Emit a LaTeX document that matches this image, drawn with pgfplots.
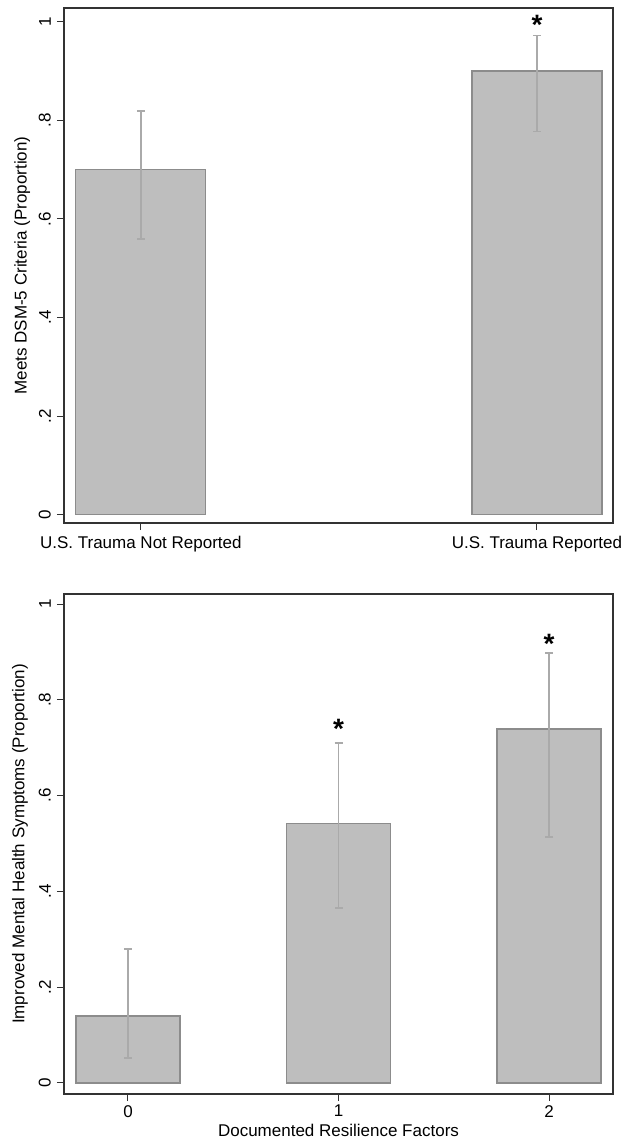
\documentclass[border=0pt]{standalone}
\usepackage{fontspec}
\setmainfont{Liberation Sans}
\usepackage{pgfplots}
\pgfplotsset{compat=1.18}
\definecolor{barfill}{RGB}{190,190,190}
\definecolor{baredge}{RGB}{140,140,140}
\definecolor{errc}{RGB}{170,170,170}
\definecolor{axc}{RGB}{50,50,50}
\begin{document}
\begin{tikzpicture}[x=1pt,y=1pt]
\useasboundingbox (-64pt,523pt) rectangle (573pt,-617pt);
\pgfplotsset{
  common/.style={
    scale only axis,
    width=549pt,
    font=\fontsize{17}{20}\selectfont,
    /pgf/number format/assume math mode=true,
    axis line style={draw=axc, line width=1.2pt},
    tick align=outside,
    major tick length=7pt,
    every tick/.style={draw=axc, line width=1pt},
    xtick pos=lower, ytick pos=left,
    ytick={0,0.2,0.4,0.6,0.8,1},
    yticklabels={0,.2,.4,.6,.8,1},
    yticklabel style={rotate=90, anchor=south, inner sep=2pt, yshift=4pt},
    xticklabel style={anchor=north, inner sep=2pt},
    every axis y label/.style={rotate=90, anchor=center},
    every axis x label/.style={at={(axis description cs:0.5,0)}, anchor=center},
  },
  errbar/.style={
    error bars/.cd, y dir=both, y explicit,
    error mark=-,
    error bar style={draw=errc, line width=1.5pt},
    error mark options={rotate=90, draw=errc, line width=1.5pt, mark size=4pt},
  },
}
% ---------------- top panel ----------------
\begin{axis}[common,
  at={(0pt,0pt)}, anchor=south west,
  height=515pt,
  xmin=-0.194, xmax=1.192,
  ymin=-0.017, ymax=1.028,
  xtick={0,1},
  xticklabels={U.S. Trauma Not Reported, U.S. Trauma Reported},
  xticklabel style={yshift=-4pt},
  ylabel={Meets DSM-5 Criteria (Proportion)},
  every axis y label/.append style={at={(axis description cs:-0.076,0.5)}},
]
\addplot[ybar, bar width=0.328, bar shift=0pt, fill=barfill, draw=baredge, line width=1.2pt, errbar]
  coordinates {
    (0,0.700) += (0,0.119) -= (0,0.141)
    (1,0.900) += (0,0.072) -= (0,0.123)
  };
\addplot[draw=none, mark=none, nodes near coords={\bfseries *},
  every node near coord/.append style={anchor=center, font=\fontsize{28}{28}\selectfont, yshift=-4pt}]
  coordinates {(1,1.002)};
\end{axis}
% ---------------- bottom panel ----------------
\begin{axis}[common,
  at={(0pt,-71pt)}, anchor=north west,
  height=500pt,
  xmin=-0.304, xmax=2.304,
  ymin=-0.023, ymax=1.021,
  xtick={0,1,2},
  xticklabels={0,1,2},
  xticklabel style={yshift=-2pt},
  ylabel={Improved Mental Health Symptoms (Proportion)},
  every axis y label/.append style={at={(axis description cs:-0.080,0.5)}},
  xlabel={Documented Resilience Factors},
  every axis x label/.append style={yshift=-36pt},
]
\addplot[ybar, bar width=0.494, bar shift=0pt, fill=barfill, draw=baredge, line width=1.2pt, errbar]
  coordinates {
    (0,0.140) += (0,0.140) -= (0,0.088)
    (1,0.541) += (0,0.169) -= (0,0.176)
    (2,0.739) += (0,0.159) -= (0,0.225)
  };
\addplot[draw=none, mark=none, nodes near coords={\bfseries *},
  every node near coord/.append style={anchor=center, font=\fontsize{28}{28}\selectfont, yshift=-4pt}]
  coordinates {(1,0.747) (2,0.925)};
\end{axis}
\end{tikzpicture}
\end{document}
